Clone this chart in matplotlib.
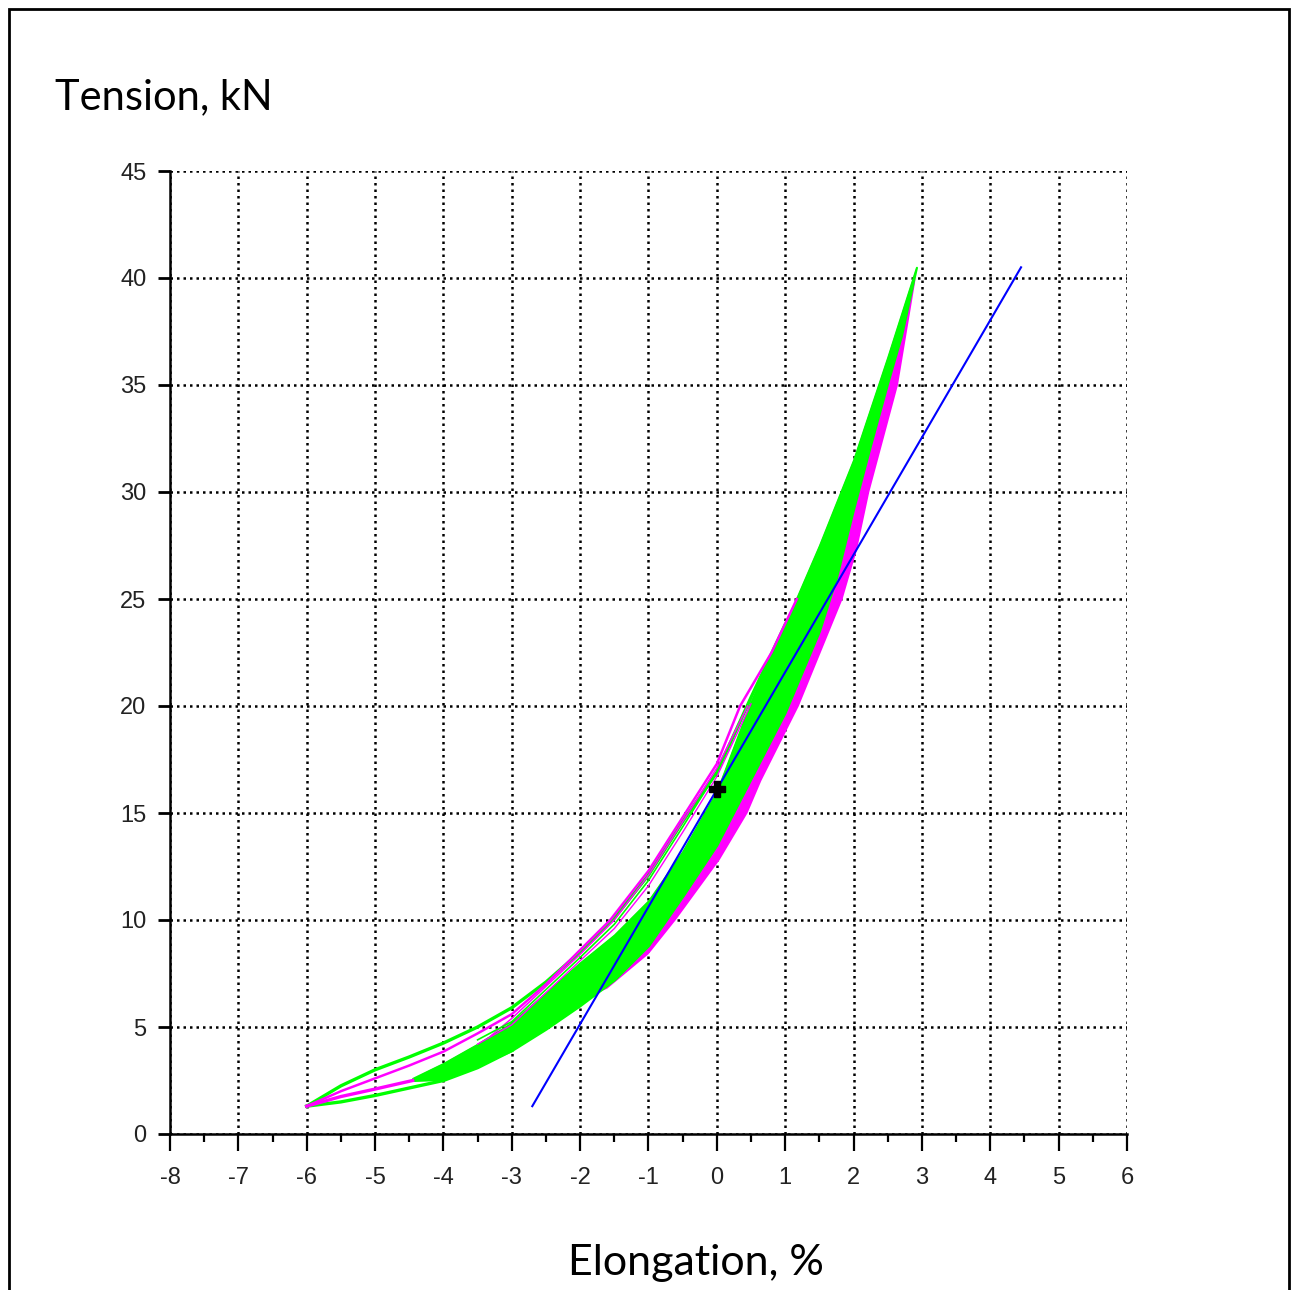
import numpy as np
import matplotlib
matplotlib.use('Agg')
import matplotlib.pyplot as plt
from matplotlib.patches import Rectangle

plt.rcParams['axes.unicode_minus'] = False

# dense cluster of green loops, top and bottom edges (elongation %, tension kN)
band_x = [-4.45, -4.0, -3.5, -3.0, -2.5, -2.0, -1.5, -1.0, -0.5, 0.0, 0.5, 1.0, 1.5, 1.75, 2.0, 2.25, 2.5, 2.7, 2.92]
band_top = [2.6, 3.3, 4.2, 5.2, 6.6, 8.0, 9.3, 10.9, 13.2, 16.0, 20.2, 23.8, 27.5, 29.5, 31.5, 33.9, 36.3, 38.3, 40.5]
band_bot = [2.5, 2.55, 3.2, 3.9, 4.9, 6.0, 7.2, 8.8, 11.1, 13.5, 16.6, 19.7, 23.5, 26.0, 29.2, 32.2, 35.1, 37.3, 40.5]

# outer edge of the magenta loops on the right hand side
mag_low_x = [-1.6, -1.0, -0.6, 0.04, 0.45, 0.65, 1.2, 1.84, 2.05, 2.23, 2.65, 2.9, 2.92]
mag_low_y = [6.8, 8.4, 10.0, 12.8, 15.0, 16.5, 20.0, 25.0, 27.3, 30.0, 35.0, 39.8, 40.5]

# big outer green loop
big_up_x = [-6.0, -5.5, -5.0, -4.5, -4.0, -3.5, -3.0, -2.5, -2.0, -1.5, -1.0, -0.5, 0.0, 0.5, 1.0]
big_up_y = [1.3, 2.25, 3.0, 3.6, 4.25, 5.0, 5.9, 7.1, 8.5, 10.1, 12.1, 14.6, 16.9, 20.4, 23.8]
big_lo_x = [-6.0, -5.5, -5.0, -4.5, -4.0, -3.5, -3.0]
big_lo_y = [1.3, 1.5, 1.8, 2.15, 2.5, 3.1, 3.9]

# magenta and thin green lines on the upper left side
mag_up1_x = [-6.0, -5.5, -5.0, -4.5, -4.0, -3.5, -3.0, -2.5, -2.0, -1.56, -1.0, -0.5, 0.0, 0.34, 0.8, 1.17]
mag_up1_y = [1.3, 2.0, 2.6, 3.2, 3.85, 4.7, 5.6, 7.0, 8.6, 10.0, 12.3, 14.8, 17.3, 20.0, 22.5, 25.0]
mag_up2_x = [-3.3, -3.0, -2.5, -2.0, -1.5, -1.0, -0.5, 0.0, 0.45]
mag_up2_y = [4.6, 5.4, 6.9, 8.4, 10.0, 12.1, 14.6, 17.1, 20.0]
mag_up3_x = [-3.5, -3.0, -2.5, -2.0, -1.5, -1.0, -0.5, 0.0, 0.5]
mag_up3_y = [4.2, 5.1, 6.6, 8.1, 9.6, 11.6, 14.1, 16.7, 20.1]
grn_thin_x = [-3.5, -3.0, -2.5, -2.0, -1.5, -1.0, -0.5, 0.0]
grn_thin_y = [4.4, 5.25, 6.75, 8.25, 9.8, 11.85, 14.35, 16.9]
mag_lo_x = [-6.0, -5.5, -5.0, -4.45]
mag_lo_y = [1.3, 1.75, 2.1, 2.5]

# fitted stiffness line and mean point
line_x = [-2.7, 4.45]
line_y = [1.3, 40.5]
mean_x = [0.0]
mean_y = [16.1]

xticks = list(range(-8, 7))
yticks = list(range(0, 46, 5))

fig = plt.figure(figsize=(12.96, 12.90), dpi=100)
ax = fig.add_axes([170/1296, 1 - 1134/1290, 957/1296, 963/1290])

green = '#00ff00'
mag = '#ff00ff'

ax.fill(band_x + mag_low_x[::-1], band_top + mag_low_y[::-1], color=mag, lw=0, zorder=2)
ax.fill_between(band_x, band_bot, band_top, color=green, lw=1.5, edgecolor=green, zorder=3)
ax.plot(big_up_x, big_up_y, color=green, lw=2.4, zorder=3)
ax.plot(big_lo_x, big_lo_y, color=green, lw=2.4, zorder=3)
ax.plot(mag_up1_x, mag_up1_y, color=mag, lw=1.8, zorder=4)
ax.plot(mag_up2_x, mag_up2_y, color=mag, lw=1.1, zorder=4)
ax.plot(mag_up3_x, mag_up3_y, color=mag, lw=1.0, zorder=4)
ax.plot(grn_thin_x, grn_thin_y, color=green, lw=1.2, zorder=4)
ax.plot(mag_lo_x, mag_lo_y, color=mag, lw=2.4, zorder=4)
ax.plot(line_x, line_y, color='#0000ff', lw=1.5, zorder=5)
ax.plot(mean_x, mean_y, 'P', color='black', markersize=11, zorder=6)

ax.set_xlim(-8, 6)
ax.set_ylim(0, 45)
ax.set_xticks(xticks)
ax.set_xticks(np.arange(-7.5, 6, 1.0), minor=True)
ax.set_yticks(yticks)
ax.set_xticklabels([str(t) for t in xticks], fontsize=17, color='#222222', family='Liberation Sans')
ax.set_yticklabels([str(t) for t in yticks], fontsize=17, color='#222222', family='Liberation Sans')
ax.tick_params(axis='x', which='major', direction='out', length=12, width=1.6, pad=12)
ax.tick_params(axis='x', which='minor', direction='out', length=6, width=1.6)
ax.tick_params(axis='y', which='major', direction='out', length=9, width=2, pad=8)

ax.grid(True, which='major', color='black', linestyle=(0, (1.0, 1.6)), lw=1.8)
ax.set_axisbelow(True)
for s in ['top', 'right']:
    ax.spines[s].set_visible(False)
for s in ['left', 'bottom']:
    ax.spines[s].set_linewidth(1.8)
    ax.spines[s].set_zorder(7)

fig.text(55/1296, 1 - 97/1290, 'Tension, kN', fontsize=30, family='Lato', va='center', ha='left')
fig.text(696/1296, 1 - 1263/1290, 'Elongation, %', fontsize=31, family='Lato', va='center', ha='center')

fig.patches.append(Rectangle((9/1296, -0.05), 1280/1296, 1.05 - 9/1290, transform=fig.transFigure,
                             fill=False, edgecolor='black', lw=2, zorder=0))

fig.savefig('out.png', dpi=100)
